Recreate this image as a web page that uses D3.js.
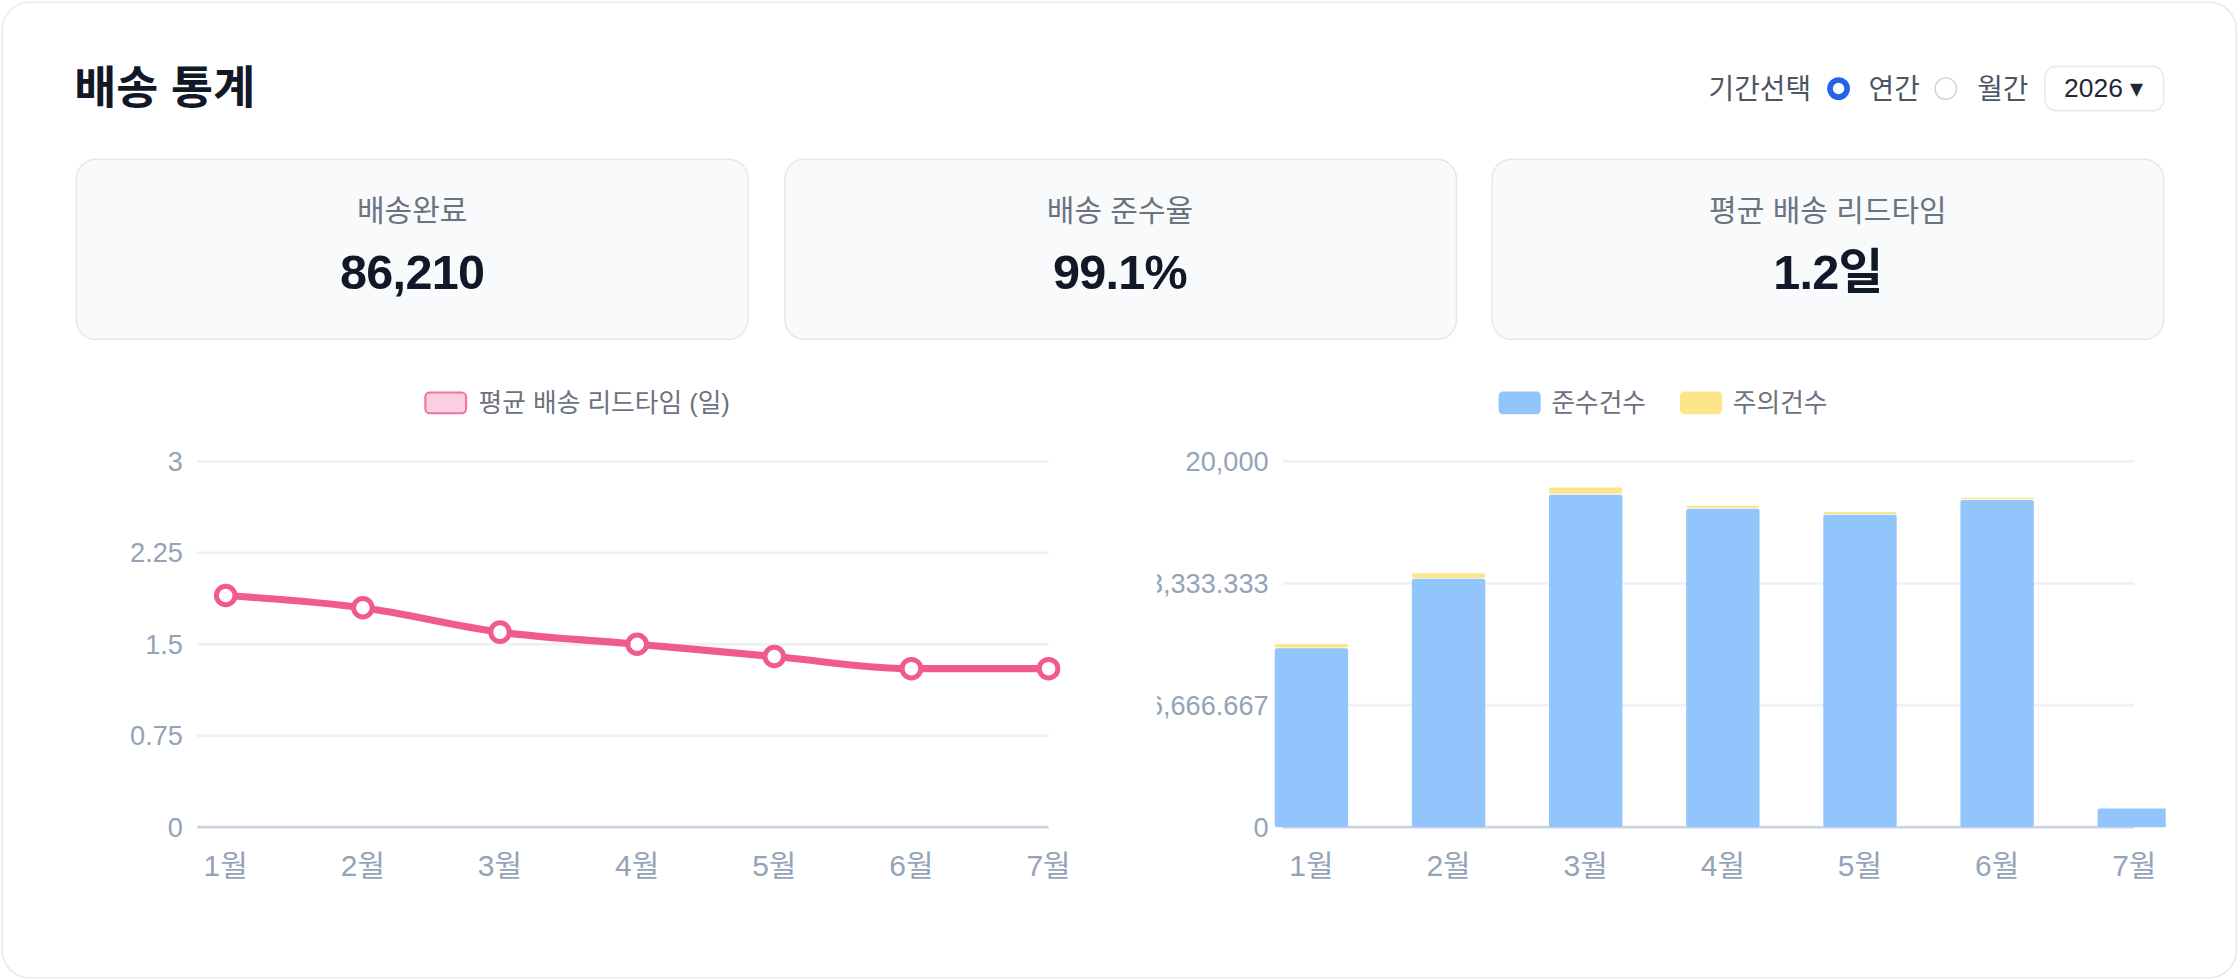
<!DOCTYPE html>
<html lang="ko">
<head>
<meta charset="utf-8">
<script src="https://cdn.jsdelivr.net/npm/d3@7"></script>
<style>
  html, body { margin: 0; padding: 0; background: #fff; }
  body { width: 2240px; height: 980px; overflow: hidden;
         font-family: "Liberation Sans", Arial, "Noto Sans CJK KR", sans-serif; }
  #page { position: absolute; left: 0; top: 0; width: 1568px; height: 686px;
          transform: scale(1.428571); transform-origin: 0 0; }
  .card { position: absolute; left: 1px; top: 1px; width: 1563px; height: 682px;
          border: 1px solid #e5e7eb; border-radius: 20px; background: #fff; }
  .title { position: absolute; left: 52px; top: 42px; font-size: 32px; font-weight: bold;
           color: #111827; line-height: 40px; }
  .ctrl { position: absolute; top: 46px; height: 32px; line-height: 32px; font-size: 19.5px; color: #4b5563; }
  .radio { position: absolute; top: 54px; width: 16px; height: 16px; box-sizing: border-box; border-radius: 50%; }
  .sel { position: absolute; left: 1431px; top: 46px; width: 84px; height: 32px; box-sizing: border-box;
         border: 1px solid #e5e7eb; border-radius: 8px; font-size: 18.5px; color: #1f2937;
         text-align: center; line-height: 30px; }
  .kpi { position: absolute; top: 111px; width: 471px; height: 127px; box-sizing: border-box;
         background: #f8fafc; border: 1px solid #e5e7eb; border-radius: 14px; text-align: center; }
  .kpi .lab { position: absolute; left: 0; right: 0; top: 22px; font-size: 21px; color: #6b7280; line-height: 28px; }
  .kpi .val { position: absolute; left: 0; right: 0; top: 57px; font-size: 34px; font-weight: bold;
              color: #111827; line-height: 42px; letter-spacing: -0.5px; }
  svg { position: absolute; overflow: hidden; }
  svg text { font-family: "Liberation Sans", Arial, "Noto Sans CJK KR", sans-serif; }
</style>
</head>
<body>
<div id="page">
  <div class="card"></div>
  <div class="title">배송 통계</div>
  <div id="controls"></div>
  <div id="kpis"></div>
  <svg id="lineChart"></svg>
  <svg id="barChart"></svg>
</div>
<script>
// ---- data ----
const months = ["1월", "2월", "3월", "4월", "5월", "6월", "7월"];
const leadTime = [1.9, 1.8, 1.6, 1.5, 1.4, 1.3, 1.3];
const compliant = [9780, 13580, 18180, 17410, 17080, 17890, 1020];
const caution = [240, 310, 400, 165, 150, 120, 0];
const leadTicks = [0, 0.75, 1.5, 2.25, 3];
const countTicks = [0, 20000 / 3, 40000 / 3, 20000];
const kpiLabels = ["배송완료", "배송 준수율", "평균 배송 리드타임"];
const kpiValues = ["86,210", "99.1%", "1.2일"];
const lineLegend = "평균 배송 리드타임 (일)";
const barLegend = ["준수건수", "주의건수"];

// header controls
const ctrl = d3.select("#controls");
ctrl.append("div").attr("class", "ctrl").style("left", "1196px").text("기간선택");
ctrl.append("div").attr("class", "radio").style("left", "1279px")
  .style("border", "4.5px solid #2563eb").style("background", "#fff");
ctrl.append("div").attr("class", "ctrl").style("left", "1308px").text("연간");
ctrl.append("div").attr("class", "radio").style("left", "1354px")
  .style("border", "1.5px solid #cbd5e1").style("background", "#fff");
ctrl.append("div").attr("class", "ctrl").style("left", "1384px").text("월간");
ctrl.append("div").attr("class", "sel").text("2026 ▾");

// KPI cards
const kpi = d3.select("#kpis").selectAll("div.kpi")
  .data(kpiLabels)
  .enter().append("div")
    .attr("class", "kpi")
    .style("left", (d, i) => (53 + i * 495.5) + "px");
kpi.append("div").attr("class", "lab").text(d => d);
kpi.append("div").attr("class", "val").text((d, i) => kpiValues[i]);

const tickColor = "#94a3b8";
const gridColor = "#eef1f5";
const axisColor = "#cbd5e1";

// ---- line chart ----
{
  const left = 40, top = 260, w = 730, h = 380;
  const svg = d3.select("#lineChart")
    .style("left", left + "px").style("top", top + "px")
    .attr("width", w).attr("height", h);

  const gx0 = 138 - left, gx1 = 734 - left;
  const x = d3.scalePoint().domain(months).range([158 - left, gx1]);
  const y = d3.scaleLinear().domain([0, 3]).range([579 - top, 323 - top]);

  svg.append("g").selectAll("line")
    .data(leadTicks)
    .enter().append("line")
      .attr("x1", gx0).attr("x2", gx1)
      .attr("y1", d => y(d)).attr("y2", d => y(d))
      .attr("stroke", d => d === 0 ? axisColor : gridColor)
      .attr("stroke-width", 2);

  svg.append("g").selectAll("text")
    .data(leadTicks)
    .enter().append("text")
      .attr("x", 128 - left).attr("y", d => y(d))
      .attr("dy", "0.35em")
      .attr("text-anchor", "end")
      .attr("font-size", 19)
      .attr("fill", tickColor)
      .text(d => d3.format("~g")(d));

  svg.append("g").selectAll("text")
    .data(months)
    .enter().append("text")
      .attr("x", d => x(d)).attr("y", 606 - top)
      .attr("dy", "0.35em")
      .attr("text-anchor", "middle")
      .attr("font-size", 21)
      .attr("fill", tickColor)
      .text(d => d);

  const line = d3.line()
    .x((d, i) => x(months[i]))
    .y(d => y(d))
    .curve(d3.curveMonotoneX);

  svg.append("path")
    .datum(leadTime)
    .attr("fill", "none")
    .attr("stroke", "#f05b8b")
    .attr("stroke-width", 5)
    .attr("stroke-linejoin", "round")
    .attr("stroke-linecap", "round")
    .attr("d", line);

  svg.selectAll(".dot")
    .data(leadTime)
    .enter().append("circle")
      .attr("cx", (d, i) => x(months[i]))
      .attr("cy", d => y(d))
      .attr("r", 6.5)
      .attr("fill", "#fff")
      .attr("stroke", "#f05b8b")
      .attr("stroke-width", 3.5);

  // legend
  const lg = svg.append("g").attr("transform", `translate(${297 - left},${274 - top})`);
  lg.append("rect").attr("x", 0.75).attr("y", 0.75).attr("width", 28.5).attr("height", 14.5)
    .attr("rx", 3).attr("fill", "#fbcfe1").attr("stroke", "#f472a0").attr("stroke-width", 1.5);
  lg.append("text").attr("x", 38).attr("y", 8).attr("dy", "0.35em")
    .attr("font-size", 18).attr("fill", "#6b7280").text(lineLegend);
}

// ---- bar chart ----
{
  const left = 810, top = 260, w = 1516 - left, h = 380;
  const svg = d3.select("#barChart")
    .style("left", left + "px").style("top", top + "px")
    .attr("width", w).attr("height", h);

  const gx0 = 898 - left, gx1 = 1494 - left;
  const x = d3.scalePoint().domain(months).range([918 - left, gx1]);
  const y = d3.scaleLinear().domain([0, 20000]).range([579 - top, 323 - top]);
  const bw = x.step() * 0.535;

  svg.append("g").selectAll("line")
    .data(countTicks)
    .enter().append("line")
      .attr("x1", gx0).attr("x2", gx1)
      .attr("y1", d => y(d)).attr("y2", d => y(d))
      .attr("stroke", d => d === 0 ? axisColor : gridColor)
      .attr("stroke-width", 2);

  svg.append("g").selectAll("text")
    .data(countTicks)
    .enter().append("text")
      .attr("x", 888 - left).attr("y", d => y(d))
      .attr("dy", "0.35em")
      .attr("text-anchor", "end")
      .attr("font-size", 19)
      .attr("fill", tickColor)
      .text(d => d3.format(",.3~f")(d));

  svg.append("g").selectAll("text")
    .data(months)
    .enter().append("text")
      .attr("x", d => x(d)).attr("y", 606 - top)
      .attr("dy", "0.35em")
      .attr("text-anchor", "middle")
      .attr("font-size", 21)
      .attr("fill", tickColor)
      .text(d => d);

  const stacked = months.map((m, i) => ({ m, a: compliant[i], b: caution[i] }));

  svg.append("g").selectAll("rect")
    .data(stacked)
    .enter().append("rect")
      .attr("x", d => x(d.m) - bw / 2)
      .attr("y", d => y(d.a))
      .attr("width", bw)
      .attr("height", d => y(0) - y(d.a))
      .attr("rx", 1.5)
      .attr("fill", "#93c5fd");

  svg.append("g").selectAll("rect")
    .data(stacked.filter(d => d.b > 0))
    .enter().append("rect")
      .attr("x", d => x(d.m) - bw / 2)
      .attr("y", d => y(d.a + d.b))
      .attr("width", bw)
      .attr("height", d => Math.max(0, y(d.a) - y(d.a + d.b) - 0.6))
      .attr("rx", 1.5)
      .attr("fill", "#fde68a");

  // legend
  const colors = ["#93c5fd", "#fde68a"];
  const lx = [1049, 1176];
  const lg = svg.append("g").selectAll("g")
    .data(barLegend)
    .enter().append("g")
      .attr("transform", (d, i) => `translate(${lx[i] - left},${274 - top})`);
  lg.append("rect").attr("width", 29.5).attr("height", 16).attr("rx", 3)
    .attr("fill", (d, i) => colors[i]);
  lg.append("text").attr("x", 37).attr("y", 8).attr("dy", "0.35em")
    .attr("font-size", 18).attr("fill", "#6b7280").text(d => d);
}
</script>
</body>
</html>
